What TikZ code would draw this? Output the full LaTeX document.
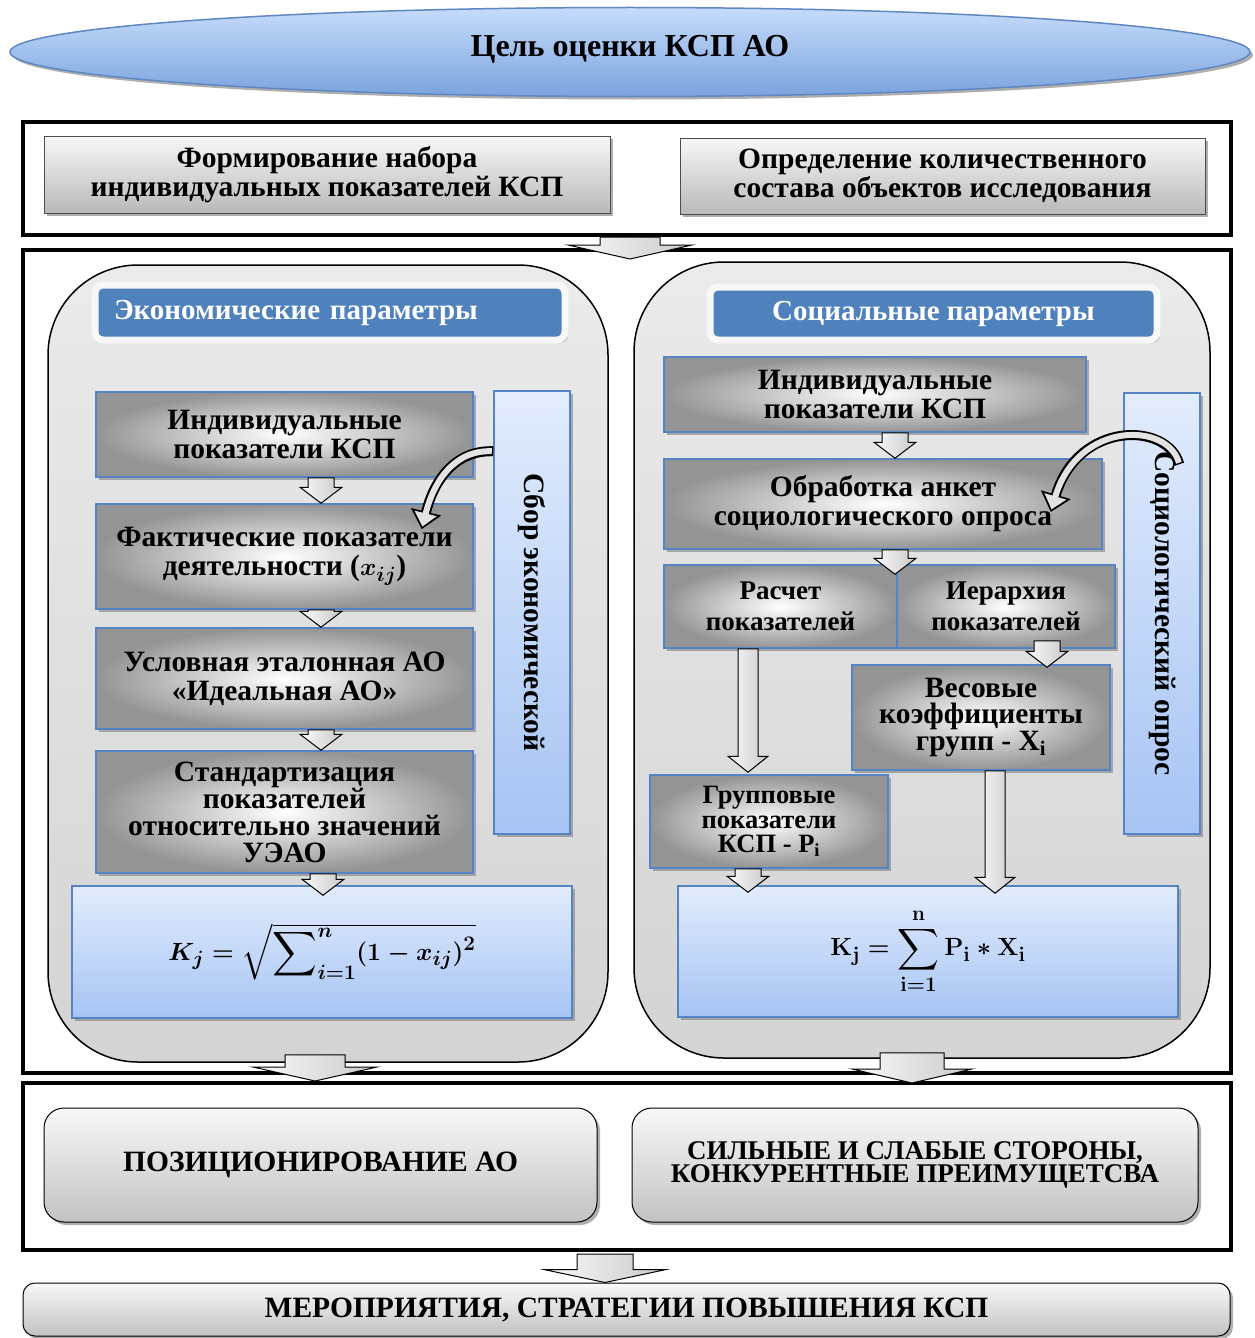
\documentclass[tikz,border=0pt]{standalone}
\usepackage{amsmath,amssymb}
\usepackage{fontspec}
\setmainfont{Liberation Serif}
\usetikzlibrary{shapes.geometric,shadows,arrows.meta,calc}

\definecolor{hdrblue}{RGB}{79,129,189}
\definecolor{brdblue}{RGB}{84,132,196}
\definecolor{lbtop}{RGB}{226,236,252}
\definecolor{lbbot}{RGB}{166,196,244}
\definecolor{elltop}{RGB}{198,220,251}
\definecolor{ellbot}{RGB}{122,163,222}
\definecolor{ellbrd}{RGB}{95,135,195}

\newcommand{\barrow}[5]{\path[barr] let \p1=#1, \p2=#2 in (\x1-#3pt,\y1) -- (\x1+#3pt,\y1) -- (\x1+#3pt,\y2+#5pt) -- (\x1+#4pt,\y2+#5pt) -- (\x1,\y2) -- (\x1-#4pt,\y2+#5pt) -- (\x1-#3pt,\y2+#5pt) -- cycle;}
\newsavebox{\ekformbox}
\newsavebox{\socformbox}

\begin{document}
\sbox{\ekformbox}{\fontsize{31}{34}\selectfont\boldmath$K_j=\sqrt{\displaystyle\sum\nolimits_{i=1}^{n}(1-x_{ij})^{2}}$}
\sbox{\socformbox}{\fontsize{29}{34}\selectfont\boldmath$\mathbf{K}_{\mathbf{j}}=\displaystyle\sum_{\mathbf{i=1}}^{\mathbf{n}}\mathbf{P}_{\mathbf{i}}\ast\mathbf{X}_{\mathbf{i}}$}
\begin{tikzpicture}[x=1pt, y=-1pt, line width=1pt,
  shd/.style={drop shadow={shadow xshift=3pt, shadow yshift=-3pt, fill=black!45, opacity=.7}},
  ell/.style={ellipse, draw=ellbrd, line width=1.5pt, top color=elltop, bottom color=ellbot, inner sep=0pt, shd, font=\fontsize{32}{36}\selectfont\bfseries},
  frm/.style={draw, line width=4pt, minimum width=1208pt, inner sep=0pt},
  tbox/.style={draw=black!70, line width=1pt, top color=gray!6, bottom color=gray!55, shd, align=center, inner sep=0pt, font=\fontsize{29.5}{29}\selectfont\bfseries},
  panel/.style={draw, line width=1.5pt, rounded corners=90pt, top color=gray!16, bottom color=gray!34, inner sep=0pt},
  hdr/.style={fill=hdrblue, draw=gray!6, line width=7pt, rounded corners=8pt, text=white, shd, inner sep=0pt, font=\fontsize{29}{32}\selectfont\bfseries},
  gbox/.style={draw=brdblue, line width=1.5pt, inner color=white, outer color=black!42, shd, align=center, inner sep=0pt, font=\fontsize{29.5}{29}\selectfont\bfseries},
  lbox/.style={draw=brdblue, line width=1.5pt, top color=lbtop, bottom color=lbbot, shd, inner sep=0pt},
  side/.style={draw=brdblue, line width=1.5pt, top color=lbtop, bottom color=lbbot, rotate=-90, minimum height=76pt, inner sep=0pt, shd, font=\fontsize{29.5}{30}\selectfont\bfseries},
  bbox/.style={draw, line width=1pt, rounded corners=20pt, top color=gray!5, bottom color=gray!48, shd, align=center, inner sep=0pt, font=\fontsize{29.5}{24}\selectfont\bfseries},
  barr/.style={draw, line width=1pt, left color=gray!4, right color=gray!42},
  cout/.style={line width=10pt, black, -{Triangle[length=18pt,width=30pt]}},
  cin/.style={line width=6pt, gray!22, shorten >=2.8pt, shorten <=1.5pt, -{Triangle[length=13.5pt,width=22pt]}}]
\path[use as bounding box, fill=white] (0,0) rectangle (1255,1338);

\node[ell, minimum width=1240pt, minimum height=89pt] (goal) at (630,52) {\raisebox{13pt}{Цель оценки КСП АО}};

\node[frm, minimum height=113pt] (frTop) at (627,178.5) {};
\node[tbox, minimum width=566pt, minimum height=77pt] (form) at (327,174.5) {Формирование набора\\индивидуальных показателей КСП};
\node[tbox, minimum width=525pt, minimum height=76pt] (opred) at (942.5,176) {Определение количественного\\состава объектов исследования};

\node[frm, minimum height=823pt] (frMid) at (627,661.5) {};
\barrow{(630,0 |- frTop.south)}{($(630,0 |- frMid.north)+(0,11)$)}{30}{62}{14}

\node[panel, minimum width=560pt, minimum height=797pt] (pEk) at (328,663.5) {};
\node[panel, minimum width=576pt, minimum height=796pt] (pSoc) at (922,660) {};
\node[hdr, minimum width=470pt, minimum height=55pt, text width=432pt, align=left] (hEk) at (330,312.5) {Экономические параметры};
\node[hdr, minimum width=447pt, minimum height=53pt] (hSoc) at (933.5,313.5) {Социальные параметры};

\node[gbox, minimum width=377pt, minimum height=85pt] (ekInd) at (284.5,434.5) {Индивидуальные\\показатели КСП};
\node[gbox, minimum width=377pt, minimum height=105pt] (ekFakt) at (284.5,556.5) {Фактические показатели\\деятельности ({\boldmath$x_{ij}$})};
\node[gbox, minimum width=377pt, minimum height=101pt] (ekUsl) at (284.5,678.5) {Условная эталонная АО\\«Идеальная АО»};
\node[gbox, minimum width=377pt, minimum height=122pt, font=\fontsize{29.5}{27}\selectfont\bfseries] (ekStd) at (284.5,812) {Стандартизация\\показателей\\относительно значений\\УЭАО};
\node[lbox, minimum width=500pt, minimum height=132pt] (ekFor) at (322,952) {\usebox{\ekformbox}};
\node[side, minimum width=443pt] (ekSbor) at (532,612.5) {Сбор экономической};

\node[gbox, minimum width=422pt, minimum height=75pt] (socInd) at (875,394.5) {Индивидуальные\\показатели КСП};
\node[gbox, minimum width=438pt, minimum height=90pt] (socObr) at (883,504) {Обработка анкет\\социологического опроса};
\node[gbox, minimum width=233pt, minimum height=83pt, font=\fontsize{27}{31}\selectfont\bfseries] (socRas) at (780.5,606.5) {Расчет\\показателей};
\node[gbox, minimum width=218pt, minimum height=83pt, font=\fontsize{27}{31}\selectfont\bfseries] (socIer) at (1006,606.5) {Иерархия\\показателей};
\node[gbox, minimum width=258pt, minimum height=105pt, font=\fontsize{29.5}{25.5}\selectfont\bfseries] (socVes) at (981,717.5) {Весовые\\коэффициенты\\групп - X\textsubscript{i}};
\node[gbox, minimum width=238pt, minimum height=93pt, font=\fontsize{26.5}{24.5}\selectfont\bfseries] (socGr) at (769,821.5) {Групповые\\показатели\\КСП - P\textsubscript{i}};
\node[lbox, minimum width=500pt, minimum height=131pt] (socFor) at (928,951.5) {\usebox{\socformbox}};
\node[side, minimum width=441pt] (socOpros) at (1162,613.5) {Социологический опрос};

\barrow{(321,0 |- ekInd.south)}{(321,0 |- ekFakt.north)}{13}{21}{16}
\barrow{(321,0 |- ekFakt.south)}{(321,0 |- ekUsl.north)}{13}{21}{16}
\barrow{(321,0 |- ekUsl.south)}{(321,0 |- ekStd.north)}{13}{21}{16}
\barrow{(323,0 |- ekStd.south)}{($(323,0 |- ekFor.north)+(0,10)$)}{13}{21}{16}
\barrow{(895,0 |- socInd.south)}{(895,0 |- socObr.north)}{13}{21}{16}
\barrow{(895,0 |- socObr.south)}{($(895,0 |- socRas.north)+(0,10)$)}{13}{21}{16}
\barrow{($(1047,0 |- socIer.south)+(0,-8)$)}{($(1047,0 |- socVes.north)+(0,3)$)}{13}{21}{16}
\barrow{(748,0 |- socRas.south)}{($(748,0 |- socGr.north)+(0,-2)$)}{10}{20}{16}
\barrow{(995,0 |- socVes.south)}{($(995,0 |- socFor.north)+(0,8)$)}{10}{20}{16}
\barrow{(748,0 |- socGr.south)}{($(748,0 |- socFor.north)+(0,7)$)}{13}{21}{16}

\draw[cout] ($(ekSbor.south west)+(0,61)$) .. controls (455,450) and (434,480) .. ($(ekFakt.north east)+(-52,26)$);
\draw[cin] ($(ekSbor.south west)+(0,61)$) .. controls (455,450) and (434,480) .. ($(ekFakt.north east)+(-52,26)$);
\draw[cout] ($(socOpros.south west)+(56,72)$) .. controls (1168,422) and (1078,420) .. ($(socObr.east)+(-52,8)$);
\draw[cin] ($(socOpros.south west)+(56,72)$) .. controls (1168,422) and (1078,420) .. ($(socObr.east)+(-52,8)$);

\node[frm, minimum height=167pt] (frBot) at (627,1166.5) {};
\barrow{($(315,0 |- pEk.south)+(0,-8)$)}{(315,0 |- frBot.north)}{30}{62}{14}
\barrow{($(912,0 |- pSoc.south)+(0,-6)$)}{($(912,0 |- frBot.north)+(0,2)$)}{32}{60}{14}
\node[bbox, minimum width=553pt, minimum height=114pt] (poz) at (320.5,1165) {ПОЗИЦИОНИРОВАНИЕ АО};
\node[bbox, minimum width=566pt, minimum height=114pt, font=\fontsize{27}{23}\selectfont\bfseries] (sil) at (915,1165) {СИЛЬНЫЕ И СЛАБЫЕ СТОРОНЫ,\\КОНКУРЕНТНЫЕ ПРЕИМУЩЕТСВА};

\node[bbox, minimum width=1207pt, minimum height=53pt, rounded corners=12pt] (mer) at (626.5,1309.5) {МЕРОПРИЯТИЯ, СТРАТЕГИИ ПОВЫШЕНИЯ КСП};
\barrow{($(605,0 |- frBot.south)+(0,2)$)}{(605,0 |- mer.north)}{28}{61}{13}
\end{tikzpicture}
\end{document}
